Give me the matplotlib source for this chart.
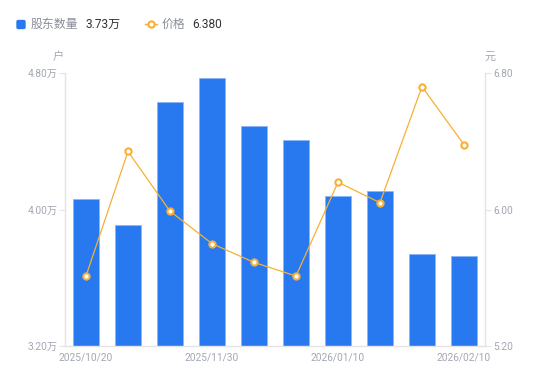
import matplotlib
matplotlib.use("Agg")
import matplotlib.pyplot as plt
from matplotlib.patches import FancyBboxPatch
from matplotlib.lines import Line2D

plt.rcParams['font.family'] = ['Roboto', 'Noto Sans CJK SC', 'DejaVu Sans']

dates = ["2025/10/20", "2025/10/31", "2025/11/20", "2025/11/30", "2025/12/10",
         "2025/12/31", "2026/01/10", "2026/01/20", "2026/01/31", "2026/02/10"]
holders = [4.06, 3.91, 4.63, 4.77, 4.49, 4.41, 4.08, 4.11, 3.74, 3.73]  # 万户
price = [5.61, 6.34, 5.99, 5.80, 5.69, 5.61, 6.16, 6.04, 6.72, 6.38]
shown_ticks = [0, 3, 6, 9]
left_ticks = [3.20, 4.00, 4.80]
right_ticks = [5.20, 6.00, 6.80]

BAR = "#2878F0"
LINE = "#F7B035"
AX = "#E3E4EA"
TXT = "#A3A7B3"

fig = plt.figure(figsize=(5.5, 3.81), dpi=100)
ax = fig.add_axes([65/550, 1-346/381, 420/550, 273/381])
x = list(range(len(dates)))
ax.bar(x, [h - 3.2 for h in holders], bottom=3.2, width=0.6, color=BAR,
       edgecolor="#8DB6F7", linewidth=0.6, zorder=2)
ax.set_xlim(-0.5, len(dates) - 0.5)
ax.set_ylim(3.2, 4.8)
ax.set_yticks(left_ticks)
ax.set_yticklabels([f"{v:.2f}万" for v in left_ticks])
ax.set_xticks([x[i] for i in shown_ticks])
ax.set_xticklabels([dates[i] for i in shown_ticks])
ax.tick_params(axis='x', length=0, pad=5, labelsize=7.3, colors=TXT)
ax.tick_params(axis='y', length=4, width=0.8, color=AX, labelsize=7.3, labelcolor=TXT, pad=1)
for s in ["top", "right"]:
    ax.spines[s].set_visible(False)
for s in ["left", "bottom"]:
    ax.spines[s].set_color(AX)
    ax.spines[s].set_linewidth(1)

ax2 = ax.twinx()
ax2.plot(x, price, color=LINE, linewidth=0.9, marker='o', markersize=4.5,
         markerfacecolor='white', markeredgecolor=LINE, markeredgewidth=1.5, zorder=3)
ax2.set_ylim(5.2, 6.8)
ax2.set_yticks(right_ticks)
ax2.set_yticklabels([f"{v:.2f}" for v in right_ticks])
ax2.tick_params(axis='y', length=4, width=0.8, color=AX, labelsize=7.3, labelcolor=TXT, pad=2)
for s in ["top", "left", "bottom"]:
    ax2.spines[s].set_visible(False)
ax2.spines["right"].set_color(AX)
ax2.spines["right"].set_linewidth(1)

# unit labels
fig.text(58/550, 1-57/381, "户", ha='center', va='center', fontsize=8, color=TXT)
fig.text(490/550, 1-57/381, "元", ha='center', va='center', fontsize=8, color=TXT)

# legend
fig.patches.append(FancyBboxPatch((17/550, 1-28.5/381), 8/550, 8/381,
                                  boxstyle="round,pad=0,rounding_size=0.003",
                                  transform=fig.transFigure, color=BAR))
fig.text(31/550, 1-24/381, "股东数量", ha='left', va='center', fontsize=8.6, color="#8A8E99")
fig.text(85/550, 1-24/381, "3.73万", ha='left', va='center', fontsize=8.6, color="#333333")
fig.lines.append(Line2D([145/550, 157/550], [1-24/381, 1-24/381], transform=fig.transFigure,
                        color=LINE, linewidth=1, marker=None))
fig.lines.append(Line2D([151/550], [1-24/381], transform=fig.transFigure, color=LINE,
                        marker='o', markersize=4.5, markerfacecolor='white',
                        markeredgecolor=LINE, markeredgewidth=1.5))
fig.text(162/550, 1-24/381, "价格", ha='left', va='center', fontsize=8.6, color="#8A8E99")
fig.text(192/550, 1-24/381, "6.380", ha='left', va='center', fontsize=8.6, color="#333333")

fig.savefig("out.png", dpi=100)
